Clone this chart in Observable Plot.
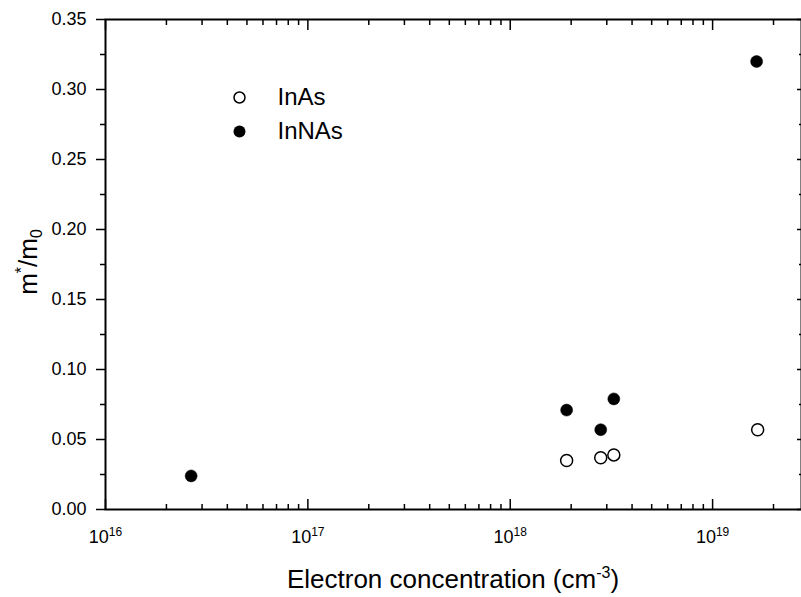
<!DOCTYPE html>
<html><head><meta charset="utf-8">
<script src="https://cdn.jsdelivr.net/npm/d3@7"></script>
<script src="https://cdn.jsdelivr.net/npm/@observablehq/plot@0.6"></script>
<style>
body{margin:0;background:#fff}
#chart svg{font-family:"Liberation Sans",Arial,Helvetica,sans-serif;display:block}
</style>
</head><body><div id="chart"></div>
<script>
// Data
const inasConc = [1.9e18, 2.8e18, 3.25e18, 1.67e19];
const inasMass = [0.035, 0.037, 0.039, 0.057];
const innasConc = [2.65e16, 1.9e18, 2.8e18, 3.25e18, 1.65e19];
const innasMass = [0.024, 0.071, 0.057, 0.079, 0.32];
const seriesNames = ["InAs", "InNAs"];

// Axis settings
const xDomain = [1e16, 2.75e19];
const yDomain = [0, 0.35];
const xMajorTicks = [1e16, 1e17, 1e18, 1e19];
const xMinorTicks = [2e16,3e16,4e16,5e16,6e16,7e16,8e16,9e16,
                     2e17,3e17,4e17,5e17,6e17,7e17,8e17,9e17,
                     2e18,3e18,4e18,5e18,6e18,7e18,8e18,9e18,
                     2e19];
const yMajorTicks = [0, 0.05, 0.10, 0.15, 0.20, 0.25, 0.30, 0.35];
const yMinorTicks = [0.025, 0.075, 0.125, 0.175, 0.225, 0.275, 0.325];
const xTitle = "Electron concentration (cm";
const xTitleSup = "-3";

const inas = inasConc.map((c, i) => ({conc: c, mass: inasMass[i]}));
const innas = innasConc.map((c, i) => ({conc: c, mass: innasMass[i]}));
const blank = () => "";

const plot = Plot.plot({
  width: 801, height: 597,
  marginLeft: 105, marginRight: 0, marginTop: 19, marginBottom: 88,
  style: {fontFamily: "Liberation Sans, Arial, Helvetica, sans-serif", background: "white", color: "black", fontSize: "18px"},
  x: {type: "log", domain: xDomain},
  y: {domain: yDomain},
  marks: [
    // bottom axis (inward ticks)
    Plot.axisX(xMajorTicks, {anchor: "bottom", tickSize: -10, tickPadding: 31, strokeWidth: 1.5,
      tickFormat: d => "10^" + Math.round(Math.log10(d)), fontSize: 18, label: null}),
    Plot.axisX(xMinorTicks, {anchor: "bottom", tickSize: -5, strokeWidth: 1.5, tickFormat: blank, label: null}),
    // top axis
    Plot.axisX(xMajorTicks, {anchor: "top", tickSize: -10, strokeWidth: 1.5, tickFormat: blank, label: null}),
    Plot.axisX(xMinorTicks, {anchor: "top", tickSize: -5, strokeWidth: 1.5, tickFormat: blank, label: null}),
    // left axis (outward ticks)
    Plot.axisY(yMajorTicks, {anchor: "left", tickSize: 9, tickPadding: 10, strokeWidth: 1.5,
      tickFormat: d3.format(".2f"), fontSize: 18, label: null}),
    Plot.axisY(yMinorTicks, {anchor: "left", tickSize: 5, strokeWidth: 1.5, tickFormat: blank, label: null}),
    // right axis (inward ticks)
    Plot.axisY(yMajorTicks, {anchor: "right", tickSize: -5, strokeWidth: 1.5, tickFormat: blank, label: null}),
    Plot.axisY(yMinorTicks, {anchor: "right", tickSize: -3, strokeWidth: 1.5, tickFormat: blank, label: null}),
    Plot.frame({stroke: "black", strokeWidth: 2}),
    // data
    Plot.dot(inas, {x: "conc", y: "mass", r: 6, stroke: "black", strokeWidth: 1.5, fill: "white"}),
    Plot.dot(innas, {x: "conc", y: "mass", r: 6, fill: "black", stroke: "black", strokeWidth: 0.5}),
    // legend
    Plot.dot([seriesNames[0]], {frameAnchor: "top-left", dx: 134, dy: 78, r: 5.5, stroke: "black", strokeWidth: 1.5, fill: "white"}),
    Plot.dot([seriesNames[1]], {frameAnchor: "top-left", dx: 134, dy: 112, r: 6, fill: "black"}),
    Plot.text([seriesNames[0]], {frameAnchor: "top-left", lineAnchor: "middle", dx: 172, dy: 78, text: d => d, textAnchor: "start", fontSize: 24, fill: "black"}),
    Plot.text([seriesNames[1]], {frameAnchor: "top-left", lineAnchor: "middle", dx: 172, dy: 112, text: d => d, textAnchor: "start", fontSize: 24, fill: "black"})
  ]
});

document.getElementById("chart").appendChild(plot);
const svg = d3.select(plot);

// tick label font size
svg.selectAll('g[aria-label="x-axis tick label"], g[aria-label="y-axis tick label"]').attr("font-size", 18);

// superscript exponents on x tick labels
svg.selectAll('g[aria-label="x-axis tick label"] text').each(function() {
  const t = d3.select(this);
  const s = t.text();
  if (s.startsWith("10^")) {
    const exp = s.slice(3);
    t.text("");
    t.append("tspan").text("10");
    t.append("tspan").attr("dy", "-7").attr("font-size", "12px").text(exp);
  }
});

// x axis title
const xt = svg.append("text")
  .attr("x", (105 + 801) / 2).attr("y", 588)
  .attr("text-anchor", "middle").attr("font-size", 26).attr("fill", "black");
xt.append("tspan").text(xTitle);
xt.append("tspan").attr("dy", "-10").attr("font-size", 16).text(xTitleSup);
xt.append("tspan").attr("dy", "10").text(")");

// y axis title m*/m0
const yt = svg.append("text")
  .attr("transform", "translate(37,262) rotate(-90)")
  .attr("text-anchor", "middle").attr("font-size", 26).attr("fill", "black");
yt.append("tspan").text("m");
yt.append("tspan").attr("dy", "-10").attr("font-size", 16).text("*");
yt.append("tspan").attr("dy", "10").text("/m");
yt.append("tspan").attr("dy", "5").attr("font-size", 16).text("0");
</script>
</body></html>
